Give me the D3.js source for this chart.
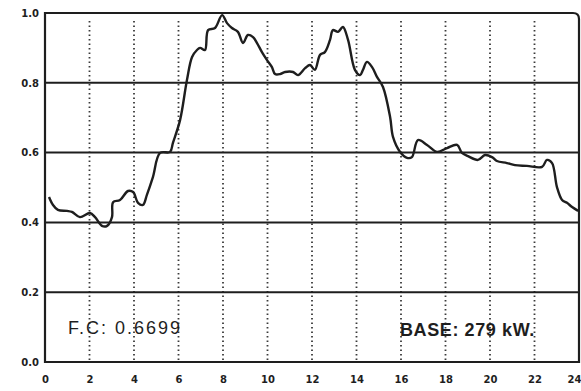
<!DOCTYPE html>
<html><head><meta charset="utf-8">
<script src="https://cdn.jsdelivr.net/npm/d3@7"></script>
<style>body{margin:0;background:#fff}svg{display:block}</style>
</head><body>
<svg id="c" width="581" height="391"></svg>
<script>
const hours = [0.18,0.36,0.58,0.99,1.21,1.57,2.02,2.25,2.56,2.79,3.01,3.06,3.37,3.73,3.96,4.18,4.40,4.58,4.85,5.17,5.62,5.75,6.07,6.38,6.61,6.83,6.97,7.19,7.33,7.64,7.96,8.18,8.40,8.67,8.90,9.12,9.35,9.53,9.75,9.98,10.20,10.34,10.56,10.79,11.15,11.37,11.69,11.91,12.13,12.36,12.58,12.81,12.94,13.17,13.39,13.62,13.93,14.16,14.29,14.47,14.70,14.92,15.19,15.51,15.64,15.96,16.27,16.49,16.76,17.17,17.62,18.07,18.52,18.74,19.01,19.46,19.78,20.09,20.31,20.76,21.12,21.66,22.34,22.56,22.79,23.01,23.24,23.46,23.69,23.96];
const load = [0.473,0.450,0.436,0.433,0.430,0.415,0.427,0.415,0.390,0.390,0.415,0.458,0.464,0.490,0.487,0.456,0.450,0.479,0.530,0.599,0.602,0.628,0.693,0.808,0.874,0.894,0.900,0.894,0.951,0.957,0.994,0.971,0.957,0.946,0.914,0.937,0.931,0.914,0.888,0.865,0.845,0.825,0.825,0.831,0.831,0.822,0.842,0.851,0.837,0.880,0.888,0.923,0.951,0.946,0.960,0.923,0.837,0.822,0.837,0.860,0.845,0.817,0.788,0.702,0.645,0.602,0.585,0.587,0.636,0.622,0.602,0.613,0.622,0.599,0.590,0.579,0.593,0.587,0.576,0.570,0.564,0.562,0.559,0.579,0.570,0.501,0.464,0.456,0.444,0.433];
const xTicks = [0,2,4,6,8,10,12,14,16,18,20,22,24];
const yTicks = [0.0,0.2,0.4,0.6,0.8,1.0];
const yLabels = ["0.0","0.2","0.4","0.6","0.8","1.0"];
const fcText = "F.C: 0.6699";
const baseText = "BASE: 279 kW.";

const svg = d3.select("#c");
const L=45,R=579,T=13,B=362;
const x = d3.scaleLinear().domain([0,24]).range([L,R]);
const y = d3.scaleLinear().domain([0,1]).range([B,T]);
const ink = "#1e1e1e";

// vertical dotted grid
svg.append("g").selectAll("line").data(xTicks.filter(d=>d>0&&d<24)).join("line")
  .attr("x1",d=>x(d)).attr("x2",d=>x(d)).attr("y1",T+8).attr("y2",B)
  .attr("stroke","#3a3a3a").attr("stroke-width",1.8).attr("stroke-dasharray","1.5,3");

// horizontal solid grid
svg.append("g").selectAll("line").data(yTicks.filter(d=>d>0&&d<1)).join("line")
  .attr("x1",L).attr("x2",R).attr("y1",d=>y(d)).attr("y2",d=>y(d))
  .attr("stroke",ink).attr("stroke-width",2);

// frame
svg.append("path")
  .attr("d",`M${L},${B}L${L},${T}L${R-6},${T}Q${R},${T} ${R},${T+6}L${R},${B}Z`)
  .attr("fill","none").attr("stroke",ink).attr("stroke-width",2.2);

// axes labels
const yAxis = d3.axisLeft(y).tickValues(yTicks).tickFormat((d,i)=>yLabels[i]).tickSize(0).tickPadding(6);
const gy = svg.append("g").attr("transform",`translate(${L},0)`).call(yAxis);
gy.select(".domain").remove();
gy.selectAll("text").attr("font-family","DejaVu Sans").attr("font-weight","bold").attr("font-size",10).attr("fill",ink);

const xAxis = d3.axisBottom(x).tickValues(xTicks).tickFormat(d=>String(d)).tickSize(0).tickPadding(14);
const gx = svg.append("g").attr("transform",`translate(0,${B})`).call(xAxis);
gx.select(".domain").remove();
gx.selectAll("text").attr("font-family","DejaVu Sans").attr("font-weight","bold").attr("font-size",10).attr("fill",ink)
  .attr("text-anchor",d=>d===24?"end":"middle").attr("dx",d=>d===24?2:0);

// curve
const pts = hours.map((h,i)=>[h,load[i]]);
svg.append("path").datum(pts)
  .attr("d",d3.line().x(d=>x(d[0])).y(d=>y(d[1])).curve(d3.curveCatmullRom.alpha(0.5)))
  .attr("fill","none").attr("stroke",ink).attr("stroke-width",2.4).attr("stroke-linejoin","round");

// annotations
svg.append("text").attr("x",68).attr("y",334).text(fcText)
  .attr("font-family","Liberation Sans").attr("font-size",18).attr("fill",ink).attr("letter-spacing",2);
svg.append("text").attr("x",400).attr("y",336).text(baseText)
  .attr("font-family","Liberation Sans").attr("font-weight","bold").attr("font-size",18).attr("fill",ink).attr("letter-spacing",0.6);
</script>
</body></html>
